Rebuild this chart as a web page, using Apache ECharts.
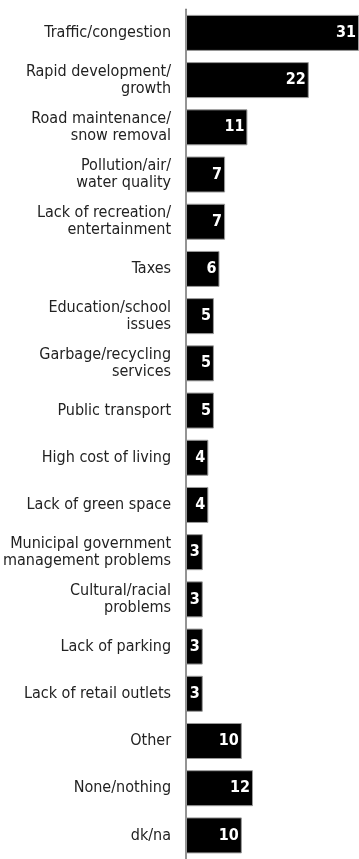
<!DOCTYPE html>
<html>
<head>
<meta charset="utf-8">
<script src="https://cdn.jsdelivr.net/npm/echarts@6/dist/echarts.min.js"></script>
<style>
  html, body { margin: 0; padding: 0; background: #ffffff; }
  #chart { width: 359px; height: 859px; }
</style>
</head>
<body>
<div id="chart"></div>
<script>
// Most important problems facing the community (% of respondents)
const categories = [
  'Traffic/congestion',
  'Rapid development/\ngrowth',
  'Road maintenance/\nsnow removal',
  'Pollution/air/\nwater quality',
  'Lack of recreation/\nentertainment',
  'Taxes',
  'Education/school\nissues',
  'Garbage/recycling\nservices',
  'Public transport',
  'High cost of living',
  'Lack of green space',
  'Municipal government\nmanagement problems',
  'Cultural/racial\nproblems',
  'Lack of parking',
  'Lack of retail outlets',
  'Other',
  'None/nothing',
  'dk/na'
];
const percents = [31, 22, 11, 7, 7, 6, 5, 5, 5, 4, 4, 3, 3, 3, 3, 10, 12, 10];

const FONT = '"DejaVu Sans Condensed", "Liberation Sans Narrow", "Roboto", sans-serif';

const chart = echarts.init(document.getElementById('chart'), null, { renderer: 'canvas' });
chart.setOption({
  animation: false,
  backgroundColor: '#ffffff',
  grid: { left: 185, top: 9.3, width: 177.5, height: 855, containLabel: false },
  xAxis: {
    type: 'value',
    min: 0,
    max: 31,
    show: false
  },
  yAxis: {
    type: 'category',
    data: categories,
    inverse: true,
    axisLine: { show: true, lineStyle: { color: '#707070', width: 1.5 } },
    axisTick: { show: false },
    splitLine: { show: false },
    axisLabel: {
      margin: 15,
      color: '#222222',
      fontFamily: FONT,
      fontSize: 16,
      lineHeight: 17,
      align: 'right',
      padding: [8, 0, 0, 0]
    }
  },
  series: [{
    type: 'bar',
    data: percents,
    barWidth: 36,
    itemStyle: {
      color: '#000000',
      borderColor: '#9a9a9a',
      borderWidth: 1
    },
    label: {
      show: true,
      position: 'insideRight',
      distance: 3,
      color: '#ffffff',
      fontFamily: FONT,
      fontWeight: 'bold',
      fontSize: 16
    }
  }]
});
</script>
</body>
</html>
